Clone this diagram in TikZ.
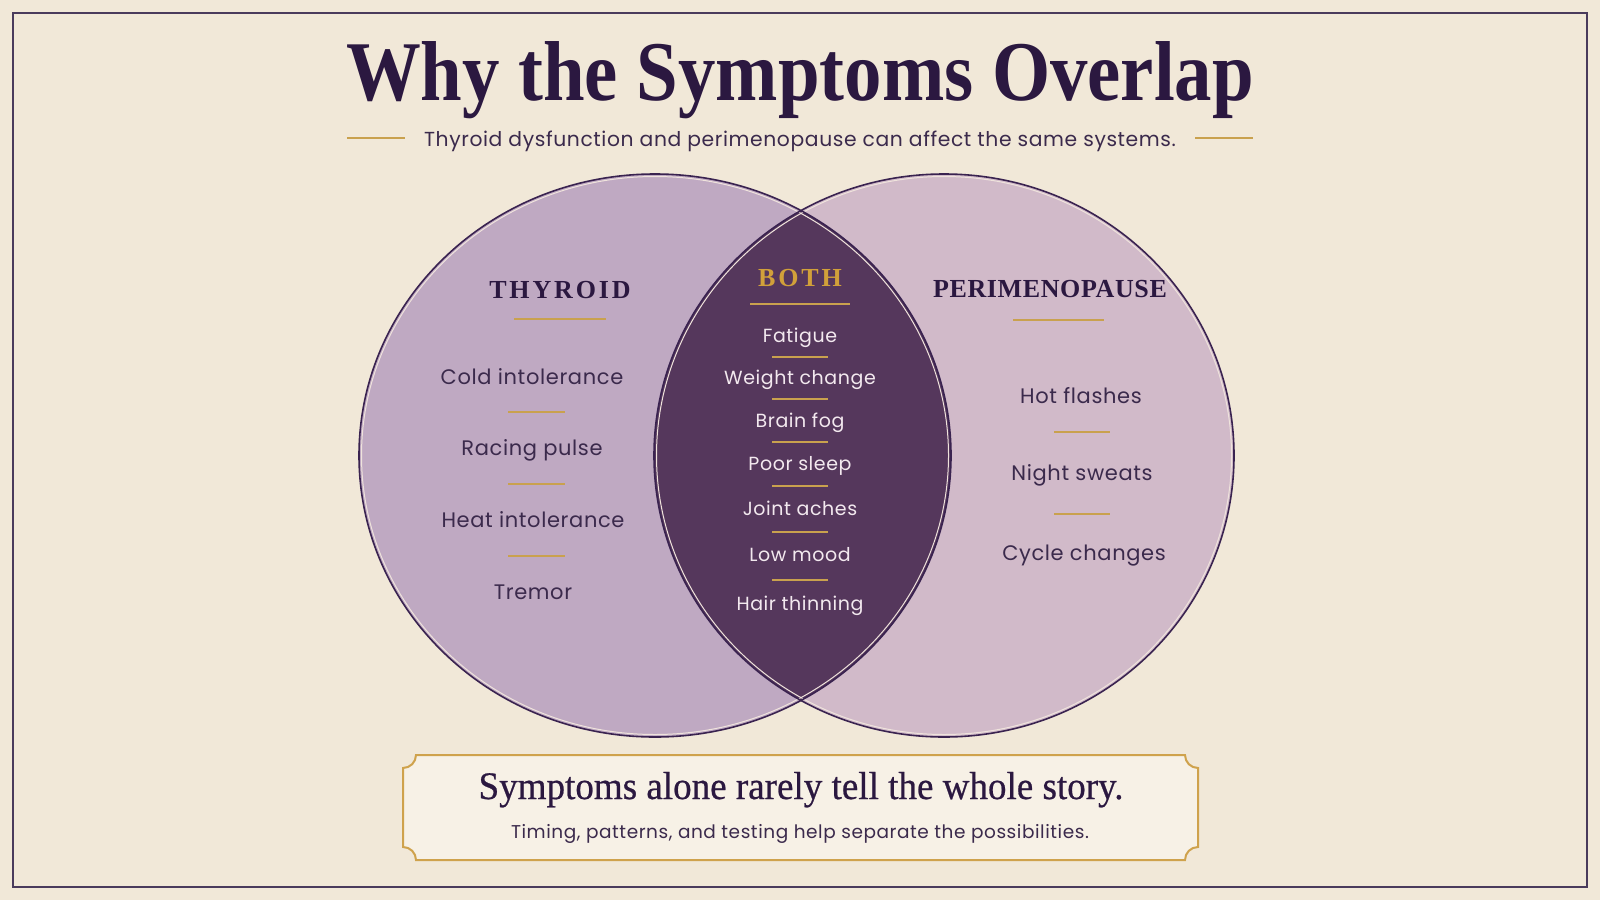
\documentclass[tikz,border=0pt]{standalone}
\usepackage{fontspec}
\setmainfont[LetterSpace=3]{Poppins}
\newfontfamily\titlefont[FakeStretch=0.88]{Liberation Serif}
\newfontfamily\storyfont[FakeStretch=0.95,FakeBold=0.6]{Liberation Serif}
\newfontfamily\headfont[LetterSpace=11]{Liberation Serif}
\newfontfamily\longheadfont[LetterSpace=2.4]{Liberation Serif}
\usepackage{tikz}
\usetikzlibrary{positioning}
\definecolor{cream}{HTML}{F1E8D8}
\definecolor{frameink}{HTML}{4A3B5C}
\definecolor{ink}{HTML}{2B1840}
\definecolor{itemink}{HTML}{3B2A4C}
\definecolor{gold}{HTML}{C9A14E}
\definecolor{bothgold}{HTML}{D1A03A}
\definecolor{thyfill}{HTML}{BFA9C2}
\definecolor{perifill}{HTML}{D1BAC9}
\definecolor{lensfill}{HTML}{55375C}
\definecolor{rimink}{HTML}{3A2350}
\definecolor{rimlight}{HTML}{EFE3DC}
\definecolor{lenstext}{HTML}{F3E9EF}
\definecolor{boxfill}{HTML}{F7F1E6}
\definecolor{boxline}{HTML}{CFA24C}

\begin{document}
\begin{tikzpicture}[x=1pt,y=-1pt,
    item/.style={font=\fontsize{21}{25}\selectfont, text=itemink, anchor=base, inner sep=0pt},
    bothitem/.style={item, font=\fontsize{19}{23}\selectfont, text=lenstext},
    head/.style={font=\headfont\bfseries\fontsize{26}{30}\selectfont, text=ink, anchor=base, inner sep=0pt},
    rule/.style={gold, line width=2pt}]
    \useasboundingbox (0,0) rectangle (1600,900);
    \fill[cream] (0,0) rectangle (1600,900);
    \draw[frameink, line width=2pt] (13,13) rectangle (1587,887);

    % --- Title ---
    \node[anchor=base, inner sep=0pt, text=ink, font=\titlefont\bfseries\fontsize{85}{90}\selectfont] (title) at (800,100) {Why the Symptoms Overlap};
    \node[item, font=\fontsize{20.3}{24}\selectfont] (subtitle) at (800,146) {Thyroid dysfunction and perimenopause can affect the same systems.};
    \draw[rule] (347,138) -- (405,138);
    \draw[rule] (1195,138) -- (1253,138);

    % --- Circles ---
    \fill[perifill] (944,455.5) ellipse [x radius=290, y radius=281.5];
    \fill[thyfill] (655,455.5) ellipse [x radius=296, y radius=281.5];
    \begin{scope}
        \clip (655,455.5) ellipse [x radius=296, y radius=281.5];
        \fill[lensfill] (944,455.5) ellipse [x radius=290, y radius=281.5];
    \end{scope}
    \draw[rimlight, line width=1pt] (655,455.5) ellipse [x radius=293.5, y radius=279];
    \draw[rimlight, line width=1pt] (944,455.5) ellipse [x radius=287.5, y radius=279];
    \draw[rimink, line width=1.6pt] (655,455.5) ellipse [x radius=296, y radius=281.5];
    \draw[rimink, line width=1.6pt] (944,455.5) ellipse [x radius=290, y radius=281.5];

    % --- Thyroid ---
    \node[head] (thyroid) at (560,298) {THYROID};
    \draw[rule] (514,319) -- (606,319);
    \node[item] (cold) at (532,384) {Cold intolerance};
    \draw[rule] (508,412) -- (565,412);
    \node[item] (pulse) at (532,455) {Racing pulse};
    \draw[rule] (508,484) -- (565,484);
    \node[item] (heat) at (533,527) {Heat intolerance};
    \draw[rule] (508,556) -- (565,556);
    \node[item] (tremor) at (533,599) {Tremor};

    % --- Both ---
    \node[head, text=bothgold] (both) at (800,286) {BOTH};
    \draw[rule] (750,304) -- (850,304);
    \node[bothitem] (fatigue) at (800,342) {Fatigue};
    \draw[rule] (772,357) -- (828,357);
    \node[bothitem] (weight) at (800,384) {Weight change};
    \draw[rule] (772,399) -- (828,399);
    \node[bothitem] (fog) at (800,427) {Brain fog};
    \draw[rule] (772,442) -- (828,442);
    \node[bothitem] (sleep) at (800,470) {Poor sleep};
    \draw[rule] (772,486) -- (828,486);
    \node[bothitem] (aches) at (800,515) {Joint aches};
    \draw[rule] (772,532) -- (828,532);
    \node[bothitem] (mood) at (800,561) {Low mood};
    \draw[rule] (772,580) -- (828,580);
    \node[bothitem] (hair) at (800,610) {Hair thinning};

    % --- Perimenopause ---
    \node[head, font=\longheadfont\bfseries\fontsize{26}{30}\selectfont] (peri) at (1050,297) {PERIMENOPAUSE};
    \draw[rule] (1013,320) -- (1104,320);
    \node[item] (flashes) at (1081,403) {Hot flashes};
    \draw[rule] (1054,432) -- (1110,432);
    \node[item] (sweats) at (1082,480) {Night sweats};
    \draw[rule] (1054,514) -- (1110,514);
    \node[item] (cycle) at (1084,560) {Cycle changes};

    % --- Bottom box ---
    \filldraw[fill=boxfill, draw=boxline, line width=2pt]
        (416,755) -- (1185,755) arc[start angle=180, end angle=90, radius=13]
        -- (1198,847) arc[start angle=270, end angle=180, radius=13]
        -- (416,860) arc[start angle=0, end angle=-90, radius=13]
        -- (403,768) arc[start angle=90, end angle=0, radius=13] -- cycle;
    \node[anchor=base, inner sep=0pt, text=ink, font=\storyfont\fontsize{39}{44}\selectfont] (story) at (801,799) {Symptoms alone rarely tell the whole story.};
    \node[item, font=\fontsize{18.5}{22}\selectfont] (timing) at (800,838) {Timing, patterns, and testing help separate the possibilities.};
\end{tikzpicture}
\end{document}
